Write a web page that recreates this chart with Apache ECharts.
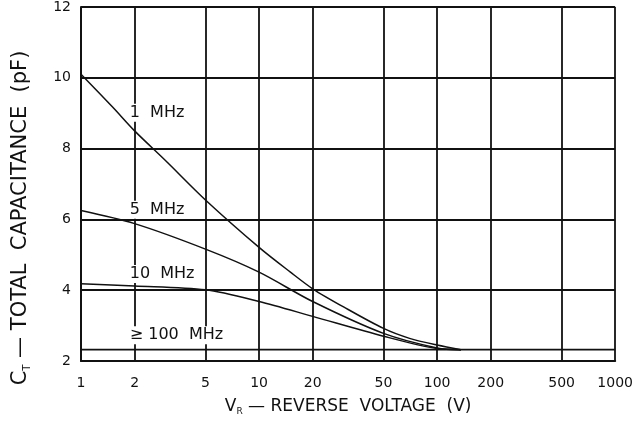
<!DOCTYPE html>
<html>
<head>
<meta charset="utf-8">
<script src="https://cdn.jsdelivr.net/npm/echarts@6/dist/echarts.min.js"></script>
<style>
	html, body { margin:0; padding:0; background:#fff; }
	#chart { width:636px; height:421px; }
</style>
</head>
<body>
<div id="chart"></div>
<script type="text/javascript">
	// x ticks (V), log scale
	var xTicks = [1, 2, 5, 10, 20, 50, 100, 200, 500, 1000];
	// curves: [V_R, C_T]
	var mhz1 = [[1,10.1],[1.5,9.18],[2,8.5],[3,7.65],[5,6.55],[10,5.21],[15,4.51],[20,4.04],[30,3.52],[50,2.92],[70,2.64],[100,2.45],[136,2.32]];
	var mhz5 = [[1,6.25],[2,5.88],[5,5.16],[10,4.51],[20,3.68],[50,2.78],[100,2.37],[136,2.32]];
	var mhz10 = [[1,4.18],[2,4.12],[5,4.01],[10,3.68],[20,3.26],[50,2.7],[100,2.35],[136,2.32]];
	var mhz100 = [[1,2.32],[1000,2.32]];
	// curve labels: [V, C, text]
	var curveLabels = [[1.83,9.01,'1  MHz'],[1.83,6.27,'5  MHz'],[1.83,4.46,'10  MHz'],[1.83,2.73,'\u2265 100  MHz']];

	var ink = '#111';
	var font = 'DejaVu Sans';

	function curve(name, data, w){
		return {
			name: name, type: 'line', data: data, smooth: 0.3,
			symbol: 'none', silent: true, z: 3,
			lineStyle: {color: ink, width: w || 1.5}
		};
	}

	var myChart = echarts.init(document.getElementById('chart'));
	var option = {
		animation: false,
		backgroundColor: '#fff',
		grid: {left: 81, right: 19, top: 5, bottom: 58},
		xAxis: {
			type: 'log', logBase: 10, min: 1, max: 1000,
			name: '{v|V}{s|R}{t| — REVERSE  VOLTAGE  (V)}',
			nameLocation: 'middle', nameGap: 36,
			nameTextStyle: {
				rich: {
					v: {fontFamily: font, fontSize: 17, color: ink},
					s: {fontFamily: font, fontSize: 9, color: ink, padding: [10, 0, 0, 0]},
					t: {fontFamily: font, fontSize: 17, color: ink}
				}
			},
			axisLine: {show: true, lineStyle: {color: ink, width: 2}},
			axisTick: {show: false, customValues: xTicks},
			axisLabel: {
				customValues: xTicks, color: ink, fontFamily: font, fontSize: 14, margin: 15,
				formatter: function(v){ return String(v); }
			},
			splitLine: {show: true, lineStyle: {color: ink, width: 1.8}},
			minorSplitLine: {show: false}
		},
		yAxis: {
			type: 'value', min: 2, max: 12, interval: 2,
			name: '{v|C}{s|T}{t| — TOTAL  CAPACITANCE  (pF)}',
			nameLocation: 'middle', nameGap: 49, nameRotate: 90,
			nameTextStyle: {
				padding: [0, 68, 0, 0],
				rich: {
					v: {fontFamily: font, fontSize: 21, color: ink},
					s: {fontFamily: font, fontSize: 10, color: ink, padding: [13, 0, 0, 0]},
					t: {fontFamily: font, fontSize: 21, color: ink}
				}
			},
			axisLine: {show: true, lineStyle: {color: ink, width: 2}},
			axisTick: {show: false},
			axisLabel: {color: ink, fontFamily: font, fontSize: 14, margin: 10},
			splitLine: {show: true, lineStyle: {color: ink, width: 1.8}}
		},
		series: [
			curve('1 MHz', mhz1),
			curve('5 MHz', mhz5),
			curve('10 MHz', mhz10),
			curve('>=100 MHz', mhz100, 1.8),
			{
				name: 'labels', type: 'scatter', symbolSize: 0, silent: true, z: 2,
				itemStyle: {opacity: 1},
				data: curveLabels,
				label: {
					show: true, position: 'right', distance: 0,
					formatter: function(p){ return p.data[2]; },
					color: ink, fontFamily: font, fontSize: 16, lineHeight: 12,
					backgroundColor: '#fff', padding: [3, 2]
				}
			}
		]
	};
	myChart.setOption(option);
</script>
</body>
</html>
